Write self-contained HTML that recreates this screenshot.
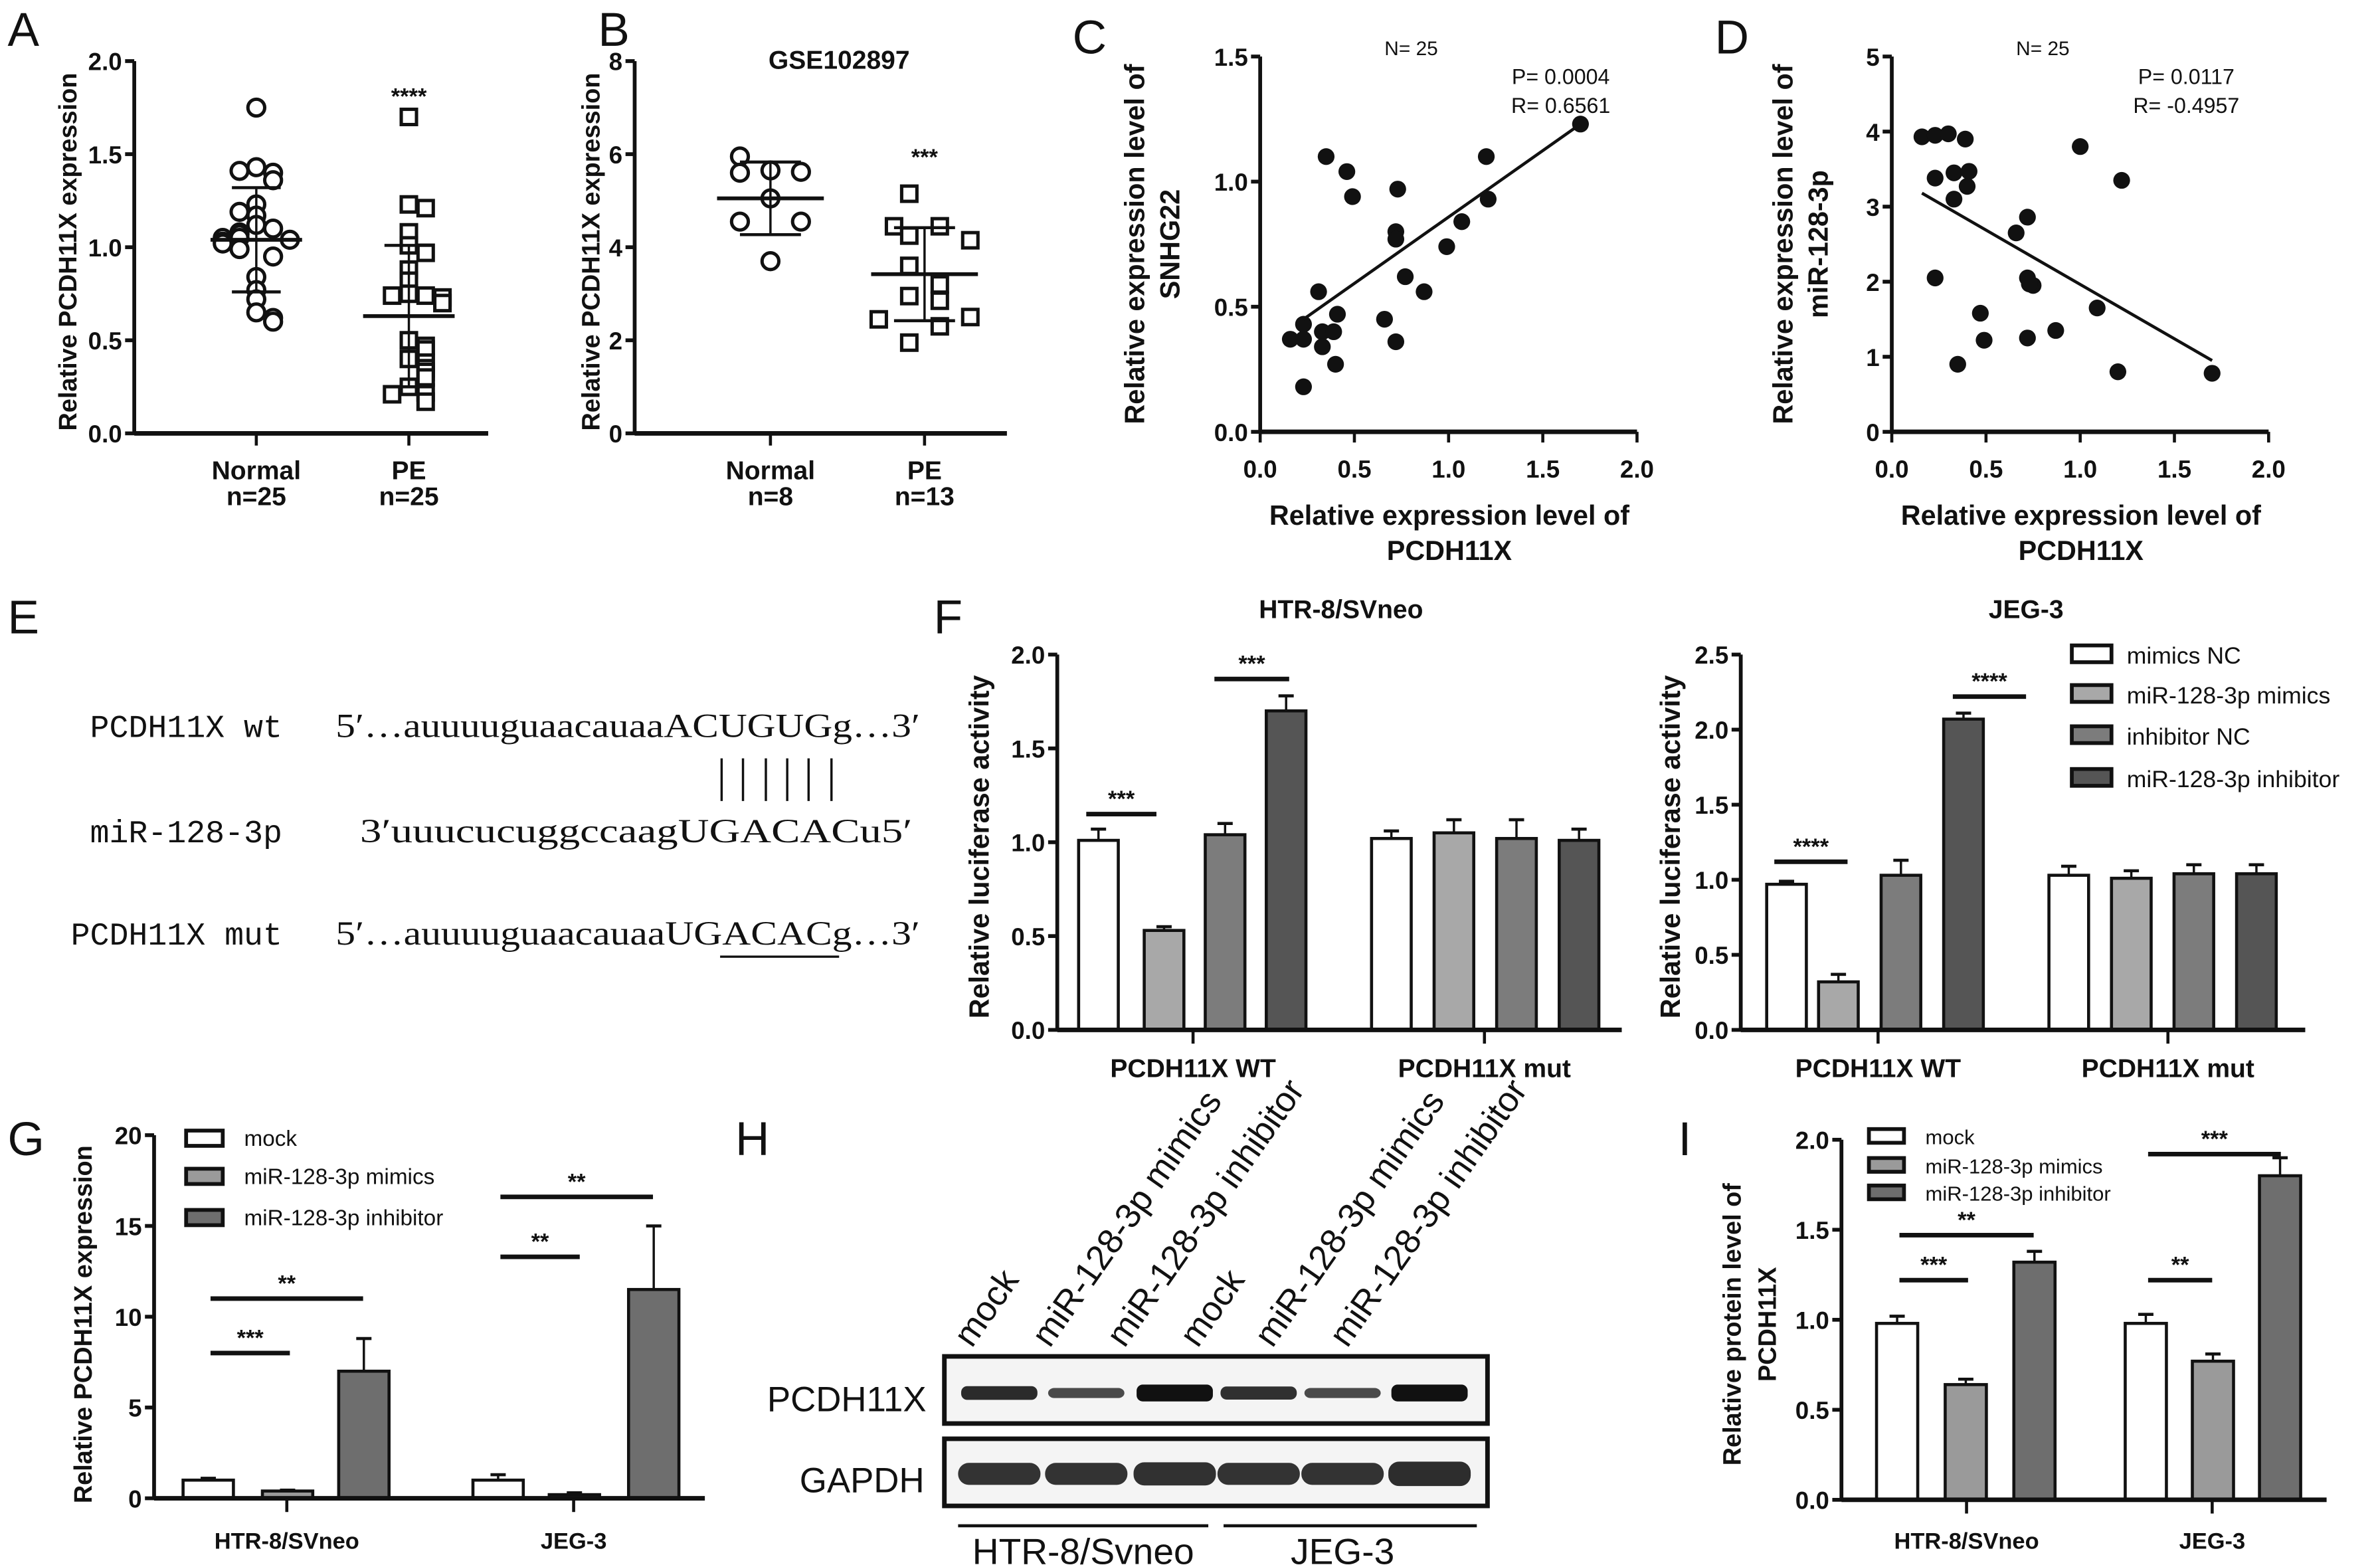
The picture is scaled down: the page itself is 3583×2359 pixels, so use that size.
<!DOCTYPE html>
<html><head><meta charset="utf-8"><style>
html,body{margin:0;padding:0;background:#fff}
svg{display:block}
</style></head><body>
<svg id="fig" xmlns="http://www.w3.org/2000/svg" width="3583" height="2359" viewBox="0 0 1560 1027" font-family="Liberation Sans, Arial, sans-serif">
<rect width="1560" height="1027" fill="#fff"/>
<g id="root"></g>
</svg>
<script>
// ---------- DATA ----------
const aNormal=[1.75,1.43,1.40,1.41,1.36,1.23,1.17,1.19,1.12,1.10,1.08,1.07,1.05,1.04,1.05,1.03,1.02,0.99,0.95,0.84,0.77,0.72,0.65,0.62,0.60];
const aPE=[1.70,1.23,1.21,1.08,1.01,0.97,0.88,0.82,0.75,0.74,0.74,0.73,0.70,0.50,0.47,0.45,0.40,0.38,0.35,0.33,0.30,0.25,0.22,0.21,0.17];
const aStats=[[1.04,0.28],[0.63,0.38]];
const bNormal=[5.95,5.65,5.62,5.60,5.05,4.55,4.55,3.70];
const bPE=[5.15,4.45,4.45,4.25,4.15,3.60,3.20,2.95,2.85,2.45,2.50,2.30,1.95];
const bStats=[[5.05,0.78],[3.42,1.0]];
const cX=[1.70,0.35,1.20,0.46,0.49,0.73,1.21,1.07,0.72,0.72,0.99,0.77,0.87,0.31,0.41,0.66,0.23,0.16,0.23,0.33,0.39,0.33,0.72,0.40,0.23];
const cY=[1.23,1.10,1.10,1.04,0.94,0.97,0.93,0.84,0.80,0.77,0.74,0.62,0.56,0.56,0.47,0.45,0.43,0.37,0.37,0.40,0.40,0.34,0.36,0.27,0.18];
const cFit=[[0.23,0.45],[1.70,1.23]];
const dX=[0.16,0.23,0.30,0.39,0.23,0.33,0.41,0.40,0.33,1.00,1.22,0.72,0.66,0.72,0.75,0.73,0.23,0.47,0.49,0.35,0.72,0.87,1.09,1.20,1.70];
const dY=[3.93,3.95,3.97,3.90,3.38,3.45,3.47,3.27,3.10,3.80,3.35,2.86,2.65,2.05,1.95,1.97,2.05,1.58,1.22,0.90,1.25,1.35,1.65,0.80,0.78];
const dFit=[[0.16,3.18],[1.70,0.95]];
const fGroups=["PCDH11X WT","PCDH11X mut"];
const fSeries=["mimics NC","miR-128-3p mimics","inhibitor NC","miR-128-3p inhibitor"];
const fLeftVals=[[1.01,0.53,1.04,1.70],[1.02,1.05,1.02,1.01]];
const fLeftErr=[[0.06,0.02,0.06,0.08],[0.04,0.07,0.10,0.06]];
const fRightVals=[[0.97,0.32,1.03,2.07],[1.03,1.01,1.04,1.04]];
const fRightErr=[[0.02,0.05,0.10,0.04],[0.06,0.05,0.06,0.06]];
const gGroups=["HTR-8/SVneo","JEG-3"];
const gSeries=["mock","miR-128-3p mimics","miR-128-3p inhibitor"];
const gVals=[[1.0,0.4,7.0],[1.0,0.2,11.5]];
const gErr=[[0.1,0.05,1.8],[0.3,0.1,3.5]];
const iVals=[[0.98,0.64,1.32],[0.98,0.77,1.80]];
const iErr=[[0.04,0.03,0.06],[0.05,0.04,0.10]];
const hLanes=["mock","miR-128-3p mimics","miR-128-3p inhibitor","mock","miR-128-3p mimics","miR-128-3p inhibitor"];
const hPcdh=[0.75,0.45,1.0,0.7,0.45,1.0];
const hGapdh=[0.9,0.9,0.95,0.9,0.9,1.0];
// ---------- HELPERS ----------
const NS="http://www.w3.org/2000/svg";
const root=document.getElementById('root');
function el(tag,attrs,parent,txt){const e=document.createElementNS(NS,tag);for(const k in attrs)e.setAttribute(k,attrs[k]);if(txt!==undefined)e.textContent=txt;(parent||root).appendChild(e);return e;}
function lin(d0,d1,r0,r1){return v=>r0+(v-d0)/(d1-d0)*(r1-r0);}
function panel(name){const g=el('g',{});return g;}
function txt(g,x,y,s,o){return el('text',Object.assign({x:x,y:y,'font-size':16,'font-weight':'bold','text-anchor':'middle',fill:'#111'},o||{}),g,s);}
function line(g,x1,y1,x2,y2,w,c){return el('line',{x1:x1,y1:y1,x2:x2,y2:y2,stroke:c||'#111','stroke-width':w||2},g);}
function yAxis(g,x,y,ticks,fmt){
  const ax=el('g',{},g);
  line(ax,x,y(ticks[0])+1,x,y(ticks[ticks.length-1]),2.5);
  ticks.forEach(t=>{line(ax,x-6,y(t),x,y(t),2.5);txt(ax,x-8,y(t)+6,fmt(t),{'text-anchor':'end','font-size':16});});
}
function letter(x,y,s){const t=el('text',{x:x,y:y,'font-size':31,fill:'#111'},root,s);}
function ytitle(g,x,y,lines,fs){lines.forEach((l,i)=>{const t=txt(g,0,0,l,{'font-size':fs||17,transform:`translate(${x+i*23},${y}) rotate(-90)`});});}
function sig(g,x1,x2,yv,s){line(g,x1,yv,x2,yv,3);const t=txt(g,(x1+x2)/2,yv-5,s,{'font-size':15});}
function jitter(vals,tol){const out=[];vals.forEach((v,i)=>{let k=0;for(let j=0;j<i;j++)if(Math.abs(vals[j]-v)<tol)k++;out.push(k===0?0:(k%2?1:-1)*Math.ceil(k/2)*11);});return out;}

// ---------- PANEL A ----------
(function(){
 const g=panel('panel-a-scatter');
 const y=lin(0,2,284,40);
 const xs=[168,268];
 line(g,88,284,320,284,3);
 yAxis(g,88,y,[0,0.5,1,1.5,2],t=>t.toFixed(1));
 xs.forEach(x=>line(g,x,284,x,292,2));
 ytitle(g,50,165,["Relative PCDH11X expression"],16.5);
 txt(g,168,314,"Normal",{'font-size':17});txt(g,168,331,"n=25",{'font-size':17});txt(g,268,314,"PE",{'font-size':17});txt(g,268,331,"n=25",{'font-size':17});
 const jN=jitter(aNormal,0.045);
 aNormal.forEach((v,i)=>{const c=el('circle',{cx:xs[0]+jN[i],cy:y(v),r:5.5,fill:'#fff',stroke:'#111','stroke-width':2.2},g);});
 const jP=jitter(aPE,0.045);
 aPE.forEach((v,i)=>{const r=el('rect',{x:xs[1]+jP[i]-5,y:y(v)-5,width:10,height:10,fill:'#fff',stroke:'#111','stroke-width':2.2},g);});
 aStats.forEach((s,i)=>{const x=xs[i];line(g,x-30,y(s[0]),x+30,y(s[0]),2.5);line(g,x,y(s[0]-s[1]),x,y(s[0]+s[1]),1.5);line(g,x-16,y(s[0]+s[1]),x+16,y(s[0]+s[1]),2);line(g,x-16,y(s[0]-s[1]),x+16,y(s[0]-s[1]),2);});
 txt(g,268,68,"****",{'font-size':15});
})();
// ---------- PANEL B ----------
(function(){
 const g=panel('panel-b-scatter');
 const y=lin(0,8,284,40);const xs=[505,606];
 line(g,416,284,660,284,3);
 yAxis(g,416,y,[0,2,4,6,8],t=>String(t));
 xs.forEach(x=>line(g,x,284,x,292,2));
 ytitle(g,393,165,["Relative PCDH11X expression"],16.5);
 txt(g,550,45,"GSE102897",{'font-size':17});
 txt(g,505,314,"Normal",{'font-size':17});txt(g,505,331,"n=8",{'font-size':17});txt(g,606,314,"PE",{'font-size':17});txt(g,606,331,"n=13",{'font-size':17});
 const jN=[ -20,0,20,-20,0,-20,20,0];
 const jP=[-10,-20,10,-10,30,-10,10,-10,10,-30,30,10,-10];
 bNormal.forEach((v,i)=>{const c=el('circle',{cx:xs[0]+jN[i],cy:y(v),r:5.5,fill:'#fff',stroke:'#111','stroke-width':2.2},g);});
 bPE.forEach((v,i)=>{const r=el('rect',{x:xs[1]+jP[i]-5,y:y(v)-5,width:10,height:10,fill:'#fff',stroke:'#111','stroke-width':2.2},g);});
 bStats.forEach((s,i)=>{const x=xs[i];line(g,x-35,y(s[0]),x+35,y(s[0]),2.5);line(g,x,y(s[0]-s[1]),x,y(s[0]+s[1]),1.5);line(g,x-20,y(s[0]+s[1]),x+20,y(s[0]+s[1]),2);line(g,x-20,y(s[0]-s[1]),x+20,y(s[0]-s[1]),2);});
 txt(g,606,108,"***",{'font-size':15});
})();
// ---------- PANELS C / D ----------
function corr(name,ax,xs,ys,fit,yMax,yTicks,yfmt,titles,pTxt,rTxt,tx){
 const g=panel(name);
 const x=lin(0,2,ax,ax+247);const y=lin(0,yMax,283,37);
 line(g,ax,283,ax+247,283,3);
 yAxis(g,ax,y,yTicks,yfmt);
 [0,0.5,1,1.5,2].forEach(t=>{line(g,x(t),283,x(t),290,2);txt(g,x(t),313,t.toFixed(1),{'font-size':16});});
 xs.forEach((v,i)=>{const c=el('circle',{cx:x(v),cy:y(ys[i]),r:5.5,fill:'#111'},g);});
 const f=line(g,x(fit[0][0]),y(fit[0][1]),x(fit[1][0]),y(fit[1][1]),2);
 txt(g,ax+99,36,"N= 25",{'font-weight':'normal','font-size':13});
 txt(g,tx,55,pTxt,{'font-weight':'normal','font-size':14});
 txt(g,tx,74,rTxt,{'font-weight':'normal','font-size':14});
 txt(g,ax+124,344,"Relative expression level of",{'font-size':18});
 txt(g,ax+124,367,"PCDH11X",{'font-size':18});
 ytitle(g,titles[0],160,titles[1],18);
}
corr('panel-c-correlation',826,cX,cY,cFit,1.5,[0,0.5,1,1.5],t=>t.toFixed(1),[750,["Relative expression level of","SNHG22"]],"P= 0.0004","R= 0.6561",1023);
corr('panel-d-correlation',1240,dX,dY,dFit,5,[0,1,2,3,4,5],t=>String(t),[1175,["Relative expression level of","miR-128-3p"]],"P= 0.0117","R= -0.4957",1433);
// ---------- PANEL E ----------
(function(){
 const g=panel('panel-e-sequences');
 const f={style:'font-family:"Liberation Mono",monospace','font-weight':'normal','font-size':21};
 const s={style:'font-family:"Liberation Serif",serif','font-weight':'normal','font-size':22,'text-anchor':'start'};
 txt(g,185,483,"PCDH11X wt",Object.assign({},f,{'text-anchor':'end'}));
 txt(g,185,552,"miR-128-3p",Object.assign({},f,{'text-anchor':'end'}));
 txt(g,185,619,"PCDH11X mut",Object.assign({},f,{'text-anchor':'end'}));
 txt(g,220,483,"5\u2032…auuuuguaacauaaACUGUGg…3\u2032",Object.assign({textLength:383,lengthAdjust:'spacingAndGlyphs'},s));
 txt(g,236,552,"3\u2032uuucucuggccaagUGACACu5\u2032",Object.assign({textLength:362,lengthAdjust:'spacingAndGlyphs'},s));
 txt(g,220,619,"5\u2032…auuuuguaacauaaUGACACg…3\u2032",Object.assign({textLength:383,lengthAdjust:'spacingAndGlyphs'},s));
 [473,487,502,516,530,545].forEach(x=>line(g,x,497,x,525,1.5));
 line(g,472,627,550,627,1.5);
})();
function bars(g,y,bx,vals,errs,fills,bw,name){
 vals.forEach((grp,gi)=>grp.forEach((v,si)=>{
  const x=bx[gi][si];const e=errs[gi][si];
  line(g,x+bw/2,y(v),x+bw/2,y(v+e),1.5);line(g,x+bw/2-5,y(v+e),x+bw/2+5,y(v+e),2);
  const r=el('rect',{x:x,y:y(v),width:bw,height:y(0)-y(v),fill:fills[si],stroke:'#111','stroke-width':2},g);
  
 }));
}
const fFills=['#fff','#a8a8a8','#7c7c7c','#555'];
// ---------- PANEL F ----------
(function(){
 const g=panel('panel-f-luciferase-htr');
 const y=lin(0,2,675,429);
 const bx=[[707,750,790,830],[899,940,981,1022]];
 bars(g,y,bx,fLeftVals,fLeftErr,fFills,26,'luciferase');
 line(g,693,675,1063,675,3);
 yAxis(g,693,y,[0,0.5,1,1.5,2],t=>t.toFixed(1));
 [782,973].forEach((c,i)=>{line(g,c,675,c,684,2);txt(g,c,706,fGroups[i],{'font-size':17});});
 txt(g,879,405,"HTR-8/SVneo",{'font-size':17});
 ytitle(g,648,555,["Relative luciferase activity"],18);
 sig(g,712,758,y(1.15),"***");sig(g,796,845,y(1.87),"***");
})();
(function(){
 const g=panel('panel-f-luciferase-jeg');
 const y=lin(0,2.5,675,429);
 const bx=[[1158,1192,1233,1274],[1343,1384,1425,1466]];
 bars(g,y,bx,fRightVals,fRightErr,fFills,26,'luciferase');
 line(g,1141,675,1511,675,3);
 yAxis(g,1141,y,[0,0.5,1,1.5,2,2.5],t=>t.toFixed(1));
 [1231,1421].forEach((c,i)=>{line(g,c,675,c,684,2);txt(g,c,706,fGroups[i],{'font-size':17});});
 txt(g,1328,405,"JEG-3",{'font-size':17});
 ytitle(g,1101,555,["Relative luciferase activity"],18);
 sig(g,1163,1211,y(1.12),"****");sig(g,1280,1328,y(2.22),"****");
 const lg=el('g',{},g);
 [429,455,482,510].forEach((yy,i)=>{el('rect',{x:1358,y:yy-6,width:26,height:11,fill:fFills[i],stroke:'#111','stroke-width':2.5},lg);const t=txt(lg,1394,yy+6,fSeries[i],{'text-anchor':'start','font-weight':'normal','font-size':15.5});});
})();
const gFills=['#fff','#9a9a9a','#6e6e6e'];
// ---------- PANEL G ----------
(function(){
 const g=panel('panel-g-qpcr');
 const y=lin(0,20,982,744);
 const bx=[[120,172,222],[310,360,412]];
 bars(g,y,bx,gVals,gErr,gFills,33,'qpcr');
 line(g,101,982,462,982,3);
 yAxis(g,101,y,[0,5,10,15,20],t=>String(t));
 [188,376].forEach((c,i)=>{line(g,c,982,c,991,2);txt(g,c,1015,gGroups[i],{'font-size':15});});
 ytitle(g,60,868,["Relative PCDH11X expression"],16.5);
 sig(g,138,190,y(8),"***");sig(g,138,238,y(11),"**");sig(g,328,380,y(13.3),"**");sig(g,328,428,y(16.6),"**");
 const lg=el('g',{},g);
 [746,771,798].forEach((yy,i)=>{el('rect',{x:122,y:yy-5,width:24,height:10,fill:gFills[i],stroke:'#111','stroke-width':2.5},lg);const t=txt(lg,160,yy+5,gSeries[i],{'text-anchor':'start','font-weight':'normal','font-size':14.5});});
})();
// ---------- PANEL I ----------
(function(){
 const g=panel('panel-i-protein');
 const y=lin(0,2,983,747);
 const bx=[[1230,1275,1320],[1393,1437,1481]];
 bars(g,y,bx,iVals,iErr,gFills,27,'protein');
 line(g,1207,983,1525,983,3);
 yAxis(g,1207,y,[0,0.5,1,1.5,2],t=>t.toFixed(1));
 [1289,1450].forEach((c,i)=>{line(g,c,983,c,992,2);txt(g,c,1015,gGroups[i],{'font-size':15});});
 ytitle(g,1141,868,["Relative protein level of","PCDH11X"],16.5);
 sig(g,1245,1290,y(1.22),"***");sig(g,1245,1333,y(1.47),"**");sig(g,1408,1450,y(1.22),"**");sig(g,1408,1495,y(1.92),"***");
 const lg=el('g',{},g);
 [745,764,782].forEach((yy,i)=>{el('rect',{x:1225,y:yy-5,width:23,height:9,fill:gFills[i],stroke:'#111','stroke-width':2.5},lg);const t=txt(lg,1262,yy+5,gSeries[i],{'text-anchor':'start','font-weight':'normal','font-size':13.5});});
})();
// ---------- PANEL H ----------
(function(){
 const g=panel('panel-h-western-blot');
 const lx=[655,712,770,825,880,937];
 const starts=[627,678,727,775,824,873];
 hLanes.forEach((l,i)=>{const t=el('text',{x:0,y:0,'font-size':23,fill:'#111',transform:`translate(${starts[i]+10},${884}) rotate(-55)`},g,l);});
 el('rect',{x:619,y:889,width:356,height:44,fill:'#f4f4f4',stroke:'#111','stroke-width':3},g);
 el('rect',{x:619,y:943,width:356,height:44,fill:'#f4f4f4',stroke:'#111','stroke-width':3},g);
 lx.forEach((x,i)=>{
  const h=3+hPcdh[i]*8;
  const b=el('rect',{x:x-25,y:913-h/2,width:50,height:h,rx:4,fill:'#111','fill-opacity':0.55+hPcdh[i]*0.45},g);
  const b2=el('rect',{x:x-27,y:966-8*hGapdh[i],width:54,height:16*hGapdh[i],rx:7,fill:'#222','fill-opacity':0.65+hGapdh[i]*0.3},g);
 });
 txt(g,555,925,"PCDH11X",{'font-weight':'normal','font-size':23});
 txt(g,565,978,"GAPDH",{'font-weight':'normal','font-size':23});
 line(g,628,1000,792,1000,2);line(g,802,1000,968,1000,2);
 txt(g,710,1025,"HTR-8/Svneo",{'font-weight':'normal','font-size':24});
 txt(g,880,1025,"JEG-3",{'font-weight':'normal','font-size':24});
})();
letter(5,30,"A");letter(392,30,"B");letter(703,35,"C");letter(1124,35,"D");letter(5,415,"E");letter(612,415,"F");letter(5,757,"G");letter(482,757,"H");letter(1100,757,"I");
</script>
</body></html>
